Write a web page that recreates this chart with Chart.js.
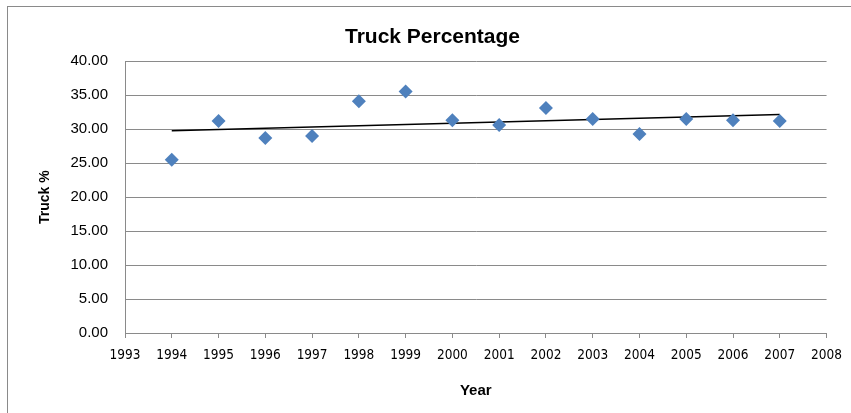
<!DOCTYPE html>
<html>
<head>
<meta charset="utf-8">
<script src="https://cdn.jsdelivr.net/npm/chart.js@4"></script>
<style>
  html, body { margin: 0; padding: 0; background: #fff; }
  #wrap { position: relative; width: 851px; height: 413px; overflow: hidden; }
  #frame { position: absolute; left: 7px; top: 6px; width: 900px; height: 500px;
           border-left: 1px solid #8a8a8a; border-top: 1px solid #8a8a8a; }
  #chart { position: absolute; left: 0; top: 0; }
</style>
</head>
<body>
<div id="wrap">
  <div id="frame"></div>
  <canvas id="chart" width="851" height="413"></canvas>
</div>
<script>
// data
const years = [1994, 1995, 1996, 1997, 1998, 1999, 2000, 2001, 2002, 2003, 2004, 2005, 2006, 2007];
const truckPct = [25.5, 31.2, 28.7, 29.0, 34.1, 35.55, 31.3, 30.6, 33.1, 31.5, 29.3, 31.5, 31.3, 31.2];
// linear trendline end points (1994 -> 2007)
const trendYears = [1994, 2007];
const trendPct = [29.75, 32.15];
const xRange = [1993, 2008];
const yRange = [0, 40];

const gridGray = '#8a8a8a';

Chart.defaults.font.family = "'Liberation Sans', Arial, sans-serif";
Chart.defaults.color = '#000';

const ctx = document.getElementById('chart').getContext('2d');
new Chart(ctx, {
    type: 'scatter',
    data: {
        datasets: [
            {
                label: 'Truck %',
                data: years.map((y, i) => ({ x: y, y: truckPct[i] })),
                pointStyle: 'rectRot',
                pointRadius: 7,
                pointHoverRadius: 7,
                backgroundColor: '#4f81bd',
                borderColor: '#4f81bd',
                borderWidth: 0,
                order: 1
            },
            {
                label: 'Trend',
                type: 'line',
                data: trendYears.map((y, i) => ({ x: y, y: trendPct[i] })),
                borderColor: '#000',
                borderWidth: 1.5,
                pointRadius: 0,
                fill: false,
                order: 2
            }
        ]
    },
    options: {
        responsive: false,
        animation: false,
        events: [],
        layout: { padding: { left: 36, top: 0, right: 22, bottom: 0 } },
        plugins: {
            legend: { display: false },
            tooltip: { enabled: false },
            title: {
                display: true,
                text: 'Truck Percentage',
                color: '#000',
                font: { size: 21, weight: 'bold' },
                padding: { top: 25, bottom: 11 }
            }
        },
        scales: {
            x: {
                type: 'linear',
                min: xRange[0],
                max: xRange[1],
                afterFit: (scale) => { scale.height = 80; },
                ticks: {
                    stepSize: 1,
                    autoSkip: false,
                    maxRotation: 0,
                    padding: 9,
                    font: { family: "'DejaVu Sans Condensed', sans-serif", size: 13.5 },
                    callback: (v) => String(v)
                },
                grid: { drawOnChartArea: false, drawTicks: true, tickLength: 5, color: gridGray },
                border: { display: true, color: gridGray, width: 1 },
                title: {
                    display: true,
                    text: 'Year',
                    color: '#000',
                    font: { size: 15, weight: 'bold' },
                    padding: { top: 0, bottom: 13 }
                }
            },
            y: {
                min: yRange[0],
                max: yRange[1],
                afterFit: (scale) => { scale.width = 89; },
                ticks: {
                    stepSize: 5,
                    padding: 17,
                    font: { size: 15 },
                    callback: (v) => v.toFixed(2)
                },
                grid: { color: gridGray, drawTicks: false, lineWidth: 1 },
                border: { display: true, color: gridGray, width: 1 },
                title: {
                    display: true,
                    text: 'Truck %',
                    color: '#000',
                    font: { size: 14, weight: 'bold' },
                    padding: { top: 1, bottom: 0 }
                }
            }
        }
    }
});
</script>
</body>
</html>
